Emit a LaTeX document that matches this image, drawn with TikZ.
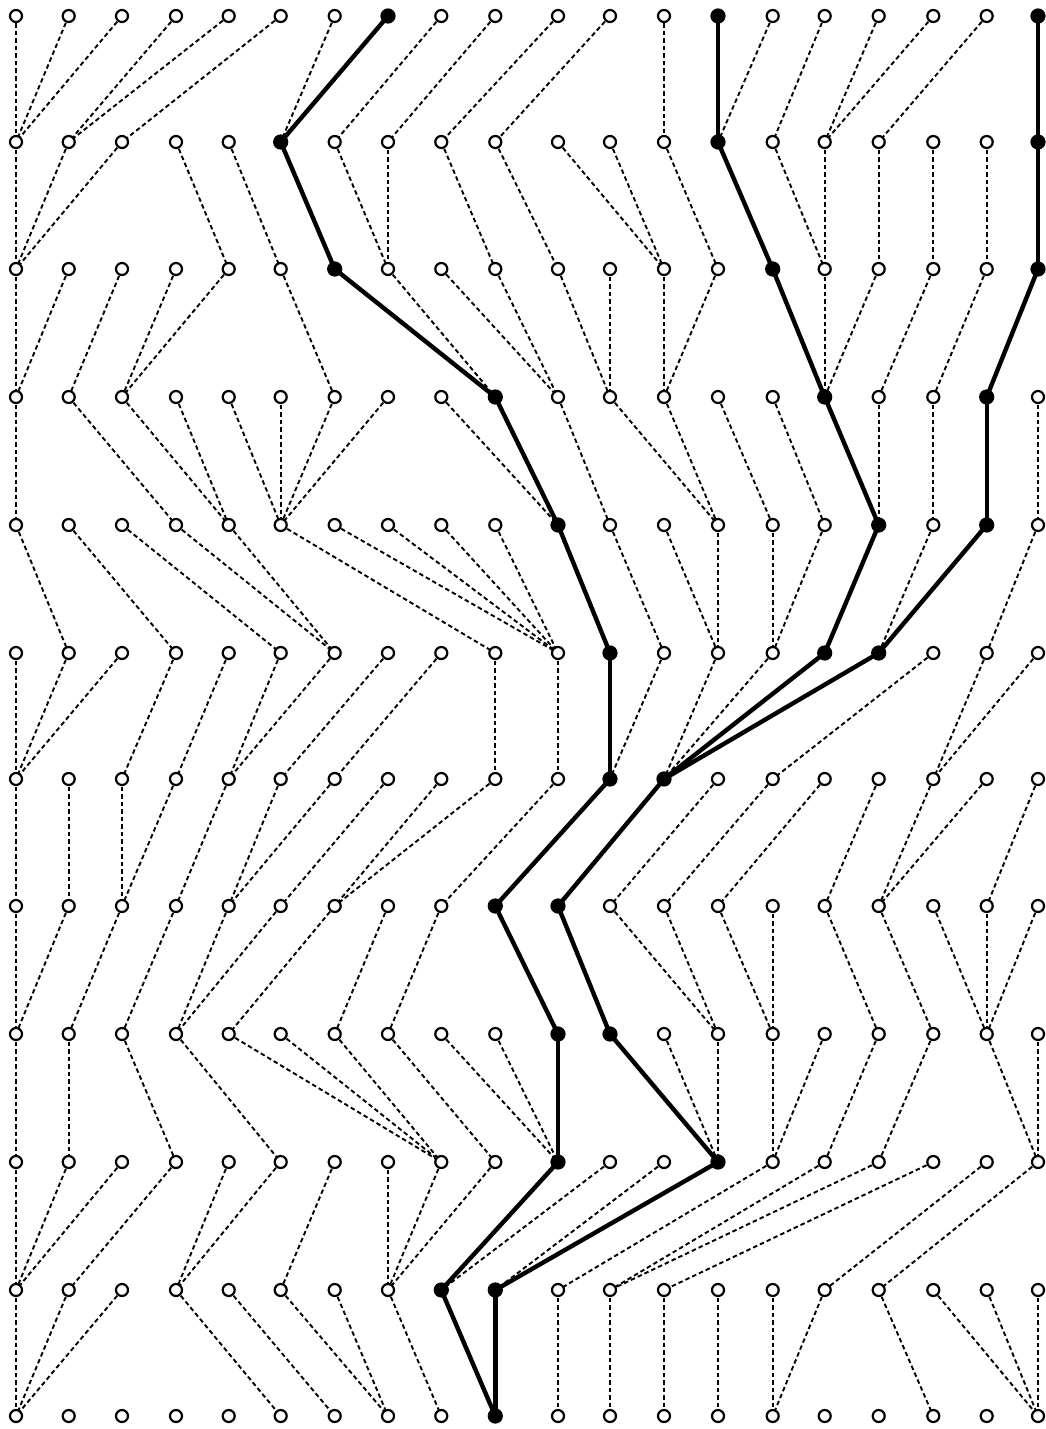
\documentclass[tikz,border=0pt]{standalone}
\usetikzlibrary{backgrounds}
\begin{document}
\begin{tikzpicture}[x=1pt,y=-1pt,
  opennode/.style={circle,draw=black,line width=2.2pt,fill=white,minimum size=12pt,inner sep=0pt},
  fillnode/.style={circle,draw=black,fill=black,line width=2.2pt,minimum size=13pt,inner sep=0pt},
  dashedge/.style={line width=1.9pt,dash pattern=on 4.5pt off 3pt},
  boldedge/.style={line width=4.4pt}]
\useasboundingbox (0,0) rectangle (1045,1429);
% filled (ancestral) nodes
\foreach \p in {0-7,0-13,0-19,1-5,1-13,1-19,2-6,2-14,2-19,3-9,3-15,3-18,4-10,4-16,4-18,5-11,5-15,5-16,6-11,6-12,7-9,7-10,8-10,8-11,9-10,9-13,10-8,10-9,11-9}
  {\expandafter\gdef\csname F\p\endcsname{}}
% nodes
\foreach \y [count=\r from 0] in {16,142,269,397,525,653,779,906,1034,1162,1290,1416}{
  \foreach \x [count=\c from 0] in {16,68.7,122,176,228.7,280.7,334.7,388,441.3,495.3,558,610,664,718,772.7,824.7,878.7,933.3,986.7,1038}{
    \ifcsname F\r-\c\endcsname\tikzset{nst/.style={fillnode}}\else\tikzset{nst/.style={opennode}}\fi
    \node[nst] (n-\r-\c) at (\x,\y) {};
  }
}
% connectors: for each row, the node in the next row that each node links to
\begin{scope}[on background layer]
\foreach \plist [count=\r from 0] in {
  {0,0,0,1,1,2,5,5,6,7,8,9,12,13,13,14,15,15,16,19},
  {0,0,0,4,5,6,7,7,9,10,12,12,13,14,15,15,16,17,18,19},
  {0,0,1,2,2,6,9,9,10,10,11,11,12,12,15,15,15,16,17,18},
  {0,3,4,4,5,5,5,5,10,10,11,13,13,14,15,16,16,17,18,19},
  {1,3,5,6,6,9,10,10,10,10,11,12,13,13,14,14,15,16,16,18},
  {0,0,0,2,3,4,4,5,6,9,10,11,11,12,12,12,12,14,17,17},
  {0,1,2,2,3,4,4,5,6,6,8,9,10,11,12,13,15,16,16,18},
  {0,0,1,2,3,3,4,6,7,10,11,13,13,14,14,16,17,18,18,18},
  {0,1,3,5,8,8,8,9,10,10,10,13,13,13,14,14,15,16,19,19},
  {0,0,0,1,3,3,5,7,7,7,8,8,9,9,10,11,11,12,15,16},
  {0,0,0,5,6,7,7,8,9,9,10,11,12,13,14,14,17,19,19,19}}{
  \foreach \p [count=\c from 0] in \plist {
    \pgfmathtruncatemacro\rn{\r+1}
    \ifcsname F\r-\c\endcsname\tikzset{est/.style={boldedge}}\else\tikzset{est/.style={dashedge}}\fi
    \draw[est] (n-\r-\c.center) -- (n-\rn-\p.center);
  }
}
\end{scope}
\end{tikzpicture}
\end{document}
